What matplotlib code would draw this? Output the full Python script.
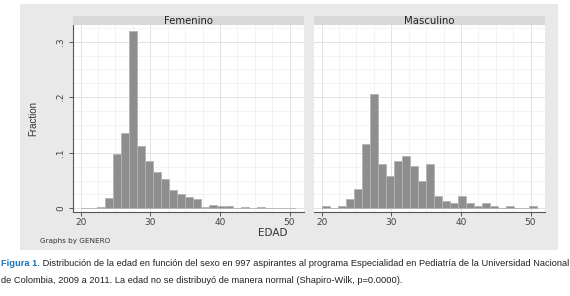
import numpy as np
import matplotlib.pyplot as plt
from matplotlib.patches import Rectangle
from matplotlib.ticker import MultipleLocator

# 27 bins from 20 to 51 (Stata histogram, fraction)
edges = np.linspace(20, 51, 28)
fem = [0, 0, 0.002, 0.018, 0.097, 0.136, 0.319, 0.112, 0.086, 0.065,
       0.053, 0.033, 0.025, 0.021, 0.016, 0.003, 0.006, 0.004, 0.004, 0,
       0.002, 0, 0.002, 0, 0, 0, 0]
masc = [0.004, 0, 0.004, 0.017, 0.035, 0.116, 0.205, 0.080, 0.058, 0.085,
        0.094, 0.076, 0.049, 0.080, 0.023, 0.013, 0.009, 0.023, 0.009, 0.004,
        0.009, 0.004, 0, 0.004, 0, 0, 0.004]
panels = ["Femenino", "Masculino"]
xticks = [20, 30, 40, 50]
yticks = [0, 0.1, 0.2, 0.3]
ylabels = ["0", ".1", ".2", ".3"]

W, H = 570, 296
fig = plt.figure(figsize=(W / 100, H / 100), dpi=100)
fig.patch.set_facecolor("white")

def fx(px):
    return px / W

def fy(py):
    return 1 - py / H

# stata graph region
fig.add_artist(Rectangle((fx(20), fy(250)), fx(558) - fx(20), fy(4) - fy(250),
                         transform=fig.transFigure, facecolor="#e9e9e9",
                         edgecolor="none", zorder=0))

lefts = [73.3, 314.3]
pw = 230.7
for i, (name, vals) in enumerate(zip(panels, [fem, masc])):
    ax = fig.add_axes([fx(lefts[i]), fy(212), fx(pw), fy(25) - fy(212)])
    ax.set_facecolor("white")
    ax.bar(edges[:-1], vals, width=np.diff(edges), align="edge",
           color="#8e8e8e", edgecolor="#b4b4b4", linewidth=0.6, zorder=2)
    ax.set_xlim(18.94, 52.08)
    ax.set_ylim(-0.0067, 0.330)
    ax.set_xticks(xticks)
    ax.set_yticks(yticks)
    ax.xaxis.set_minor_locator(MultipleLocator(2.5))
    ax.yaxis.set_minor_locator(MultipleLocator(0.025))
    ax.grid(True, which="major", color="#e2e2e2", lw=0.7, zorder=3)
    ax.grid(True, which="minor", color="#efefef", lw=0.5, zorder=3)
    ax.tick_params(which="minor", length=0)
    ax.tick_params(axis="x", length=3, width=0.7, color="#555555",
                   labelsize=6.5, pad=1.5, labelcolor="#444444")
    for s in ["top", "right"]:
        ax.spines[s].set_visible(False)
    ax.spines["bottom"].set_color("#555555")
    ax.spines["bottom"].set_linewidth(0.8)
    if i == 0:
        ax.set_yticklabels(ylabels, rotation=90, va="center")
        ax.tick_params(axis="y", length=3, width=0.7, color="#555555",
                       labelsize=6.5, pad=3, labelcolor="#444444")
        ax.spines["left"].set_color("#555555")
        ax.spines["left"].set_linewidth(0.8)
        ax.set_ylabel("Fraction", fontsize=7, color="#333333", labelpad=13,
                      family="Liberation Sans")
    else:
        ax.spines["left"].set_visible(False)
        ax.tick_params(axis="y", length=0, labelleft=False)
    # strip
    sx = fig.add_axes([fx(lefts[i]), fy(25), fx(pw), fy(15.7) - fy(25)])
    sx.set_facecolor("#d9d9d9")
    sx.set_xticks([])
    sx.set_yticks([])
    for s in sx.spines.values():
        s.set_visible(False)
    sx.text(0.5, 0.45, name, ha="center", va="center", fontsize=7.3,
            color="#222222", transform=sx.transAxes)

fig.text(fx(273), fy(233), "EDAD", ha="center", va="center", fontsize=7.5,
         color="#333333")
fig.text(fx(40), fy(241), "Graphs by GENERO", ha="left", va="center",
         fontsize=5.2, color="#333333")

# caption
cap = fig.add_axes([0, 0, 1, 1])
cap.set_axis_off()
cfont = "Liberation Sans"
t1 = cap.text(fx(1), fy(266), "Figura 1.", ha="left", va="baseline",
              fontsize=6.7, color="#1a75bc", weight="bold", family=cfont)
cap.annotate(" Distribución de la edad en función del sexo en 997 aspirantes al "
             "programa Especialidad en Pediatría de la Universidad Nacional",
             xy=(1, 0), xycoords=t1, va="bottom", ha="left", fontsize=6.7,
             color="#222222", family=cfont)
cap.text(fx(1), fy(283), "de Colombia, 2009 a 2011. La edad no se distribuyó de "
         "manera normal (Shapiro-Wilk, p=0.0000).", ha="left", va="baseline",
         fontsize=6.7, color="#222222", family=cfont)

fig.savefig("out.png", dpi=100)
